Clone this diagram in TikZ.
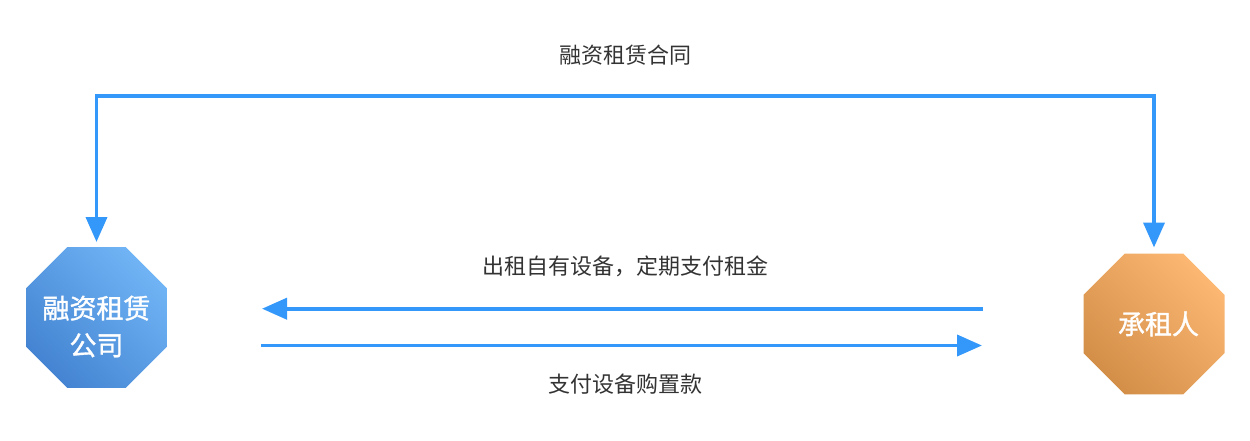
\documentclass[tikz,border=0pt]{standalone}
\usepackage{fontspec}
\setmainfont{Noto Sans CJK SC}
\newfontfamily\octfont[FakeBold=1.2]{Noto Sans CJK SC}
\usetikzlibrary{arrows.meta,shapes.geometric}
\definecolor{lineblue}{RGB}{52,152,250}
\definecolor{labelgray}{RGB}{51,51,51}
\definecolor{blueL}{RGB}{112,180,245}
\definecolor{blueD}{RGB}{68,132,210}
\definecolor{orangeL}{RGB}{252,184,115}
\definecolor{orangeD}{RGB}{211,142,72}
\tikzset{
  oct/.style={regular polygon, regular polygon sides=8, minimum size=152.6pt,
    inner sep=0pt, outer sep=0pt},
  nodetext/.style={text=white, align=center, inner sep=0pt,
    font=\octfont\fontsize{27pt}{37pt}\selectfont},
  lbl/.style={text=labelgray, inner sep=0pt, font=\fontsize{22pt}{24pt}\selectfont},
  conn/.style={draw=lineblue, line width=3.8pt, line join=miter,
    -{Triangle[length=25pt,width=21pt]}},
  conn2/.style={draw=lineblue, line width=3.8pt, line join=miter,
    {Triangle[length=25pt,width=21pt]}-{Triangle[length=25pt,width=21pt]}}
}
\begin{document}
\begin{tikzpicture}[x=1pt,y=-1pt]
\useasboundingbox (0,0) rectangle (1250,440);
\node[oct, top color=blueL, bottom color=blueD, shading angle=-45] (L) at (96.5,317.5) {};
\node[oct, top color=orangeL, bottom color=orangeD, shading angle=-45] (R) at (1154,324) {};
\node[nodetext] (Lt) at ([yshift=-9pt]L.center) {融资租赁\\公司};
\node[nodetext] (Rt) at ([xshift=4.5pt]R.center) {承租人};
% top contract arrow
\coordinate (tl) at (96.5,96);
\coordinate (tr) at (1154,96);
\draw[conn2, shorten <=5pt, shorten >=6pt] (L.north) -- (tl) -- (tr) -- (R.north);
% middle arrows
\coordinate (a1) at (983,308.7);
\coordinate (a2) at (262,308.7);
\coordinate (b1) at (261,345.5);
\coordinate (b2) at (982,345.5);
\draw[conn] (a1) -- (a2);
\draw[conn] (b1) -- (b2);
% labels
\node[lbl] (t1) at (625,55.5) {融资租赁合同};
\node[lbl] (t2) at (625,266.5) {出租自有设备，定期支付租金};
\node[lbl] (t3) at (625,384.5) {支付设备购置款};
\end{tikzpicture}
\end{document}
